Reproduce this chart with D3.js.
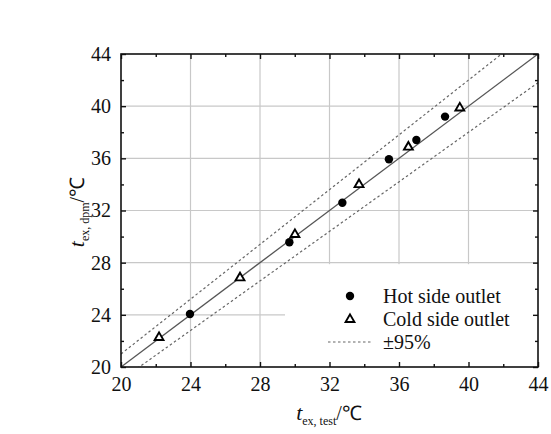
<!DOCTYPE html>
<html>
<head>
<meta charset="utf-8">
<script src="https://cdn.jsdelivr.net/npm/d3@7"></script>
<style>
  body { margin: 0; background: #fff; }
</style>
</head>
<body>
<svg id="chart" width="551" height="434" font-family="Liberation Serif"></svg>
<script>
'use strict';

// values
const majorTicks = [20, 24, 28, 32, 36, 40, 44]
const minorTicks = [22, 26, 30, 34, 38, 42]
const hotTest = [23.97, 29.69, 32.74, 35.42, 37.0, 38.65]
const hotDpm = [24.06, 29.56, 32.6, 35.93, 37.41, 39.2]
const coldTest = [22.19, 26.85, 30.01, 33.7, 36.54, 39.5]
const coldDpm = [22.3, 26.88, 30.2, 34.03, 36.9, 39.9]
const bandRatio = [1.05, 0.95]
const legendLabels = ['Hot side outlet', 'Cold side outlet', '\u00b195%']

const serif = 'Liberation Serif'

let svg = d3.select('#chart')
let pLeft = 121, pRight = 538, pTop = 54, pBottom = 367

let x = d3.scaleLinear().domain([20, 44]).range([pLeft, pRight])
let y = d3.scaleLinear().domain([20, 44]).range([pBottom, pTop])

// grid
let grid = svg.append('g').attr('class', 'grid')
grid.selectAll('line.gx')
    .data(majorTicks.slice(1, -1))
    .enter().append('line')
    .attr('x1', d => x(d)).attr('x2', d => x(d))
    .attr('y1', pTop).attr('y2', pBottom)
    .attr('stroke', '#c8c8c8').attr('stroke-width', 1.2)
grid.selectAll('line.gy')
    .data(majorTicks.slice(1, -1))
    .enter().append('line')
    .attr('y1', d => y(d)).attr('y2', d => y(d))
    .attr('x1', pLeft).attr('x2', pRight)
    .attr('stroke', '#c8c8c8').attr('stroke-width', 1.2)

// clip for the lines
svg.append('clipPath').attr('id', 'plotClip')
    .append('rect')
    .attr('x', pLeft).attr('y', pTop)
    .attr('width', pRight - pLeft).attr('height', pBottom - pTop)

// legend background hides part of the grid
svg.append('rect')
    .attr('x', 285).attr('y', y(28) + 1.5)
    .attr('width', pRight - 285).attr('height', pBottom - y(28) - 1.5)
    .attr('fill', '#fff')

let lines = svg.append('g').attr('clip-path', 'url(#plotClip)')
let line = d3.line().x(d => x(d[0])).y(d => y(d[1]))

lines.append('path')
    .attr('d', line([[20, 20], [44, 44]]))
    .attr('stroke', '#555').attr('stroke-width', 1.3).attr('fill', 'none')

bandRatio.forEach(function(r) {
    lines.append('path')
        .attr('d', line([[20, 20 * r], [44, 44 * r]]))
        .attr('stroke', '#666').attr('stroke-width', 1.2)
        .attr('stroke-dasharray', '2.5,2.5').attr('fill', 'none')
})

// points
let tri = d3.symbol().type(d3.symbolTriangle).size(34)
svg.selectAll('circle.hot')
    .data(d3.zip(hotTest, hotDpm))
    .enter().append('circle')
    .attr('cx', d => x(d[0])).attr('cy', d => y(d[1]))
    .attr('r', 4.2).attr('fill', '#000')
svg.selectAll('path.cold')
    .data(d3.zip(coldTest, coldDpm))
    .enter().append('path')
    .attr('d', tri)
    .attr('transform', d => 'translate(' + x(d[0]) + ',' + (y(d[1]) + 0.5) + ')')
    .attr('fill', '#fff').attr('stroke', '#000').attr('stroke-width', 1.9)

// axes, ticks inward
let fontSize = '20px'
let bAxis = svg.append('g').attr('transform', 'translate(0,' + pBottom + ')')
    .call(d3.axisBottom(x).tickValues(majorTicks).tickSize(-5).tickPadding(10).tickFormat(d3.format('d')))
let bMinor = svg.append('g').attr('transform', 'translate(0,' + pBottom + ')')
    .call(d3.axisBottom(x).tickValues(minorTicks).tickSize(-3).tickFormat(''))
let lAxis = svg.append('g').attr('transform', 'translate(' + pLeft + ',0)')
    .call(d3.axisLeft(y).tickValues(majorTicks).tickSize(-5).tickPadding(10).tickFormat(d3.format('d')))
let lMinor = svg.append('g').attr('transform', 'translate(' + pLeft + ',0)')
    .call(d3.axisLeft(y).tickValues(minorTicks).tickSize(-3).tickFormat(''))
let tAxis = svg.append('g').attr('transform', 'translate(0,' + pTop + ')')
    .call(d3.axisTop(x).tickValues(majorTicks).tickSize(-5).tickFormat(''))
let tMinor = svg.append('g').attr('transform', 'translate(0,' + pTop + ')')
    .call(d3.axisTop(x).tickValues(minorTicks).tickSize(-3).tickFormat(''))
let rAxis = svg.append('g').attr('transform', 'translate(' + pRight + ',0)')
    .call(d3.axisRight(y).tickValues(majorTicks).tickSize(-5).tickFormat(''))
let rMinor = svg.append('g').attr('transform', 'translate(' + pRight + ',0)')
    .call(d3.axisRight(y).tickValues(minorTicks).tickSize(-3).tickFormat(''))

;[bAxis, bMinor, lAxis, lMinor, tAxis, tMinor, rAxis, rMinor].forEach(function(a) {
    a.attr('font-family', serif).attr('font-size', fontSize)
    a.select('.domain').remove()
    a.selectAll('line').attr('stroke', '#111').attr('stroke-width', 1.4)
    a.selectAll('text').attr('font-family', serif).attr('fill', '#111')
})

// frame
svg.append('rect')
    .attr('x', pLeft).attr('y', pTop)
    .attr('width', pRight - pLeft).attr('height', pBottom - pTop)
    .attr('fill', 'none').attr('stroke', '#111').attr('stroke-width', 1.6)

// legend
let lg = svg.append('g')
let lgRows = [296, 319, 342]
lg.append('circle').attr('cx', 350).attr('cy', lgRows[0]).attr('r', 4.2).attr('fill', '#000')
lg.append('path').attr('d', tri)
    .attr('transform', 'translate(350,' + (lgRows[1] + 0.5) + ')')
    .attr('fill', '#fff').attr('stroke', '#000').attr('stroke-width', 1.9)
lg.append('line').attr('x1', 328).attr('x2', 372)
    .attr('y1', lgRows[2]).attr('y2', lgRows[2])
    .attr('stroke', '#666').attr('stroke-width', 1.2).attr('stroke-dasharray', '2.5,2.5')
lg.selectAll('text.lg')
    .data(legendLabels)
    .enter().append('text')
    .attr('x', 383).attr('y', (d, i) => lgRows[i])
    .attr('dy', '0.35em')
    .attr('font-size', '20px')
    .attr('font-family', serif).attr('fill', '#111')
    .text(d => d)

// axis titles
let xt = svg.append('text').attr('x', 329).attr('y', 420).attr('text-anchor', 'middle')
    .attr('font-family', serif).attr('fill', '#111')
xt.append('tspan').attr('font-style', 'italic').attr('font-size', '22px').text('t')
xt.append('tspan').attr('font-size', '12px').attr('dy', '5').text('ex, test')
xt.append('tspan').attr('font-size', '20px').attr('dy', '-5').text('/\u2103')

let yt = svg.append('text')
    .attr('transform', 'translate(84,212) rotate(-90)')
    .attr('text-anchor', 'middle')
    .attr('font-family', serif).attr('fill', '#111')
yt.append('tspan').attr('font-style', 'italic').attr('font-size', '22px').text('t')
yt.append('tspan').attr('font-size', '12px').attr('dy', '5').text('ex, dpm')
yt.append('tspan').attr('font-size', '20px').attr('dy', '-5').text('/\u2103')
</script>
</body>
</html>
